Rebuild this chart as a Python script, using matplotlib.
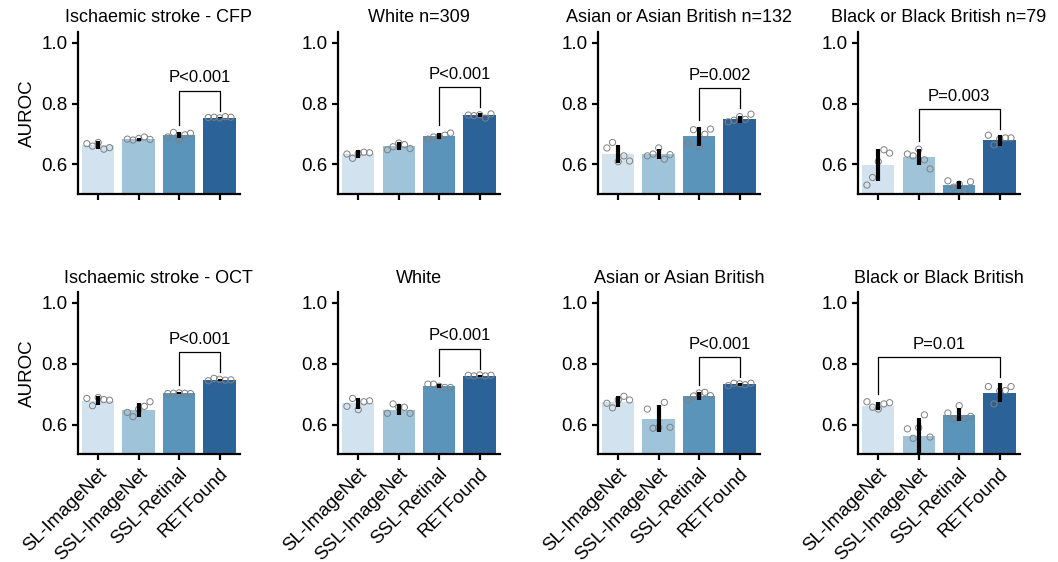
import matplotlib
matplotlib.use("Agg")
import matplotlib.pyplot as plt
import numpy as np

plt.rcParams['font.family'] = ['Liberation Sans', 'DejaVu Sans']

models = ["SL-ImageNet", "SSL-ImageNet", "SSL-Retinal", "RETFound"]
colors = ["#d3e2ef", "#9fc3d8", "#5b94bb", "#2b6399"]

titles = ["Ischaemic stroke - CFP", "White n=309", "Asian or Asian British n=132", "Black or Black British n=79",
          "Ischaemic stroke - OCT", "White", "Asian or Asian British", "Black or Black British"]

means = [
    [0.663, 0.682, 0.696, 0.754],
    [0.634, 0.660, 0.693, 0.762],
    [0.634, 0.634, 0.692, 0.748],
    [0.598, 0.625, 0.532, 0.679],
    [0.679, 0.648, 0.703, 0.746],
    [0.670, 0.649, 0.728, 0.760],
    [0.675, 0.619, 0.693, 0.732],
    [0.662, 0.561, 0.632, 0.705],
]
errs = [
    [0.013, 0.006, 0.009, 0.003],
    [0.012, 0.014, 0.011, 0.006],
    [0.030, 0.016, 0.030, 0.012],
    [0.053, 0.027, 0.014, 0.017],
    [0.015, 0.023, 0.003, 0.004],
    [0.019, 0.018, 0.007, 0.004],
    [0.018, 0.045, 0.013, 0.005],
    [0.013, 0.061, 0.021, 0.031],
]
points = [
    [[0.668, 0.660, 0.672, 0.650, 0.655], [0.683, 0.680, 0.685, 0.690, 0.682], [0.690, 0.705, 0.682, 0.697, 0.702], [0.754, 0.755, 0.753, 0.757, 0.755]],
    [[0.634, 0.620, 0.636, 0.640, 0.638], [0.648, 0.658, 0.670, 0.665, 0.652], [0.683, 0.690, 0.692, 0.696, 0.703], [0.762, 0.760, 0.763, 0.752, 0.766]],
    [[0.654, 0.672, 0.609, 0.628, 0.611], [0.628, 0.634, 0.654, 0.617, 0.632], [0.669, 0.714, 0.658, 0.699, 0.716], [0.740, 0.745, 0.757, 0.748, 0.765]],
    [[0.532, 0.557, 0.609, 0.648, 0.637], [0.634, 0.628, 0.650, 0.615, 0.585], [0.546, 0.525, 0.535, 0.517, 0.543], [0.696, 0.664, 0.683, 0.687, 0.687]],
    [[0.686, 0.662, 0.689, 0.682, 0.680], [0.640, 0.626, 0.651, 0.660, 0.675], [0.702, 0.703, 0.704, 0.703, 0.702], [0.744, 0.752, 0.749, 0.746, 0.747]],
    [[0.660, 0.686, 0.649, 0.675, 0.678], [0.637, 0.668, 0.657, 0.657, 0.637], [0.733, 0.733, 0.726, 0.722, 0.722], [0.762, 0.760, 0.763, 0.760, 0.762]],
    [[0.670, 0.655, 0.681, 0.693, 0.681], [0.651, 0.588, 0.590, 0.673, 0.591], [0.681, 0.694, 0.704, 0.706, 0.695], [0.728, 0.736, 0.734, 0.731, 0.736]],
    [[0.675, 0.657, 0.651, 0.668, 0.672], [0.586, 0.555, 0.590, 0.632, 0.559], [0.638, 0.619, 0.662, 0.620, 0.627], [0.725, 0.668, 0.711, 0.712, 0.725]],
]
# comparison (bar index pairs) and p-value labels
comparisons = [(2, 3), (2, 3), (2, 3), (1, 3), (2, 3), (2, 3), (2, 3), (0, 3)]
pvals = ["P<0.001", "P<0.001", "P=0.002", "P=0.003", "P<0.001", "P<0.001", "P<0.001", "P=0.01"]

# style constants
jitter = np.array([-0.28, -0.14, 0.0, 0.14, 0.28])
fig = plt.figure(figsize=(10.58, 5.62), dpi=100)
lefts = [0.0737, 0.3195, 0.5652, 0.811]
bottoms = [0.655, 0.192]
w, h = 0.153, 0.288

for k in range(8):
    r, c = divmod(k, 4)
    ax = fig.add_axes([lefts[c], bottoms[r], w, h])
    x = np.arange(len(models))
    ax.bar(x, means[k], width=0.8, color=colors, zorder=1)
    for i in range(4):
        ax.scatter(x[i] + jitter, points[k][i], s=20, facecolors='none',
                   edgecolors='#808080', linewidths=0.7, zorder=3)
        ax.plot([x[i], x[i]], [means[k][i] - errs[k][i], means[k][i] + errs[k][i]],
                color='black', lw=3.0, solid_capstyle='butt', zorder=4)
    # significance bracket
    a, b = comparisons[k]
    tops = [max(max(points[k][i]), means[k][i] + errs[k][i]) for i in range(4)]
    ytop = max(tops[a:b + 1]) + 0.085
    ya = tops[a] + 0.025
    yb = tops[b] + 0.02
    ax.plot([x[a], x[a], x[b], x[b]], [ya, ytop, ytop, yb], color='black', lw=0.9, zorder=5)
    ax.text((x[a] + x[b]) / 2, ytop + 0.018, pvals[k], ha='center', va='bottom', fontsize=12)

    ax.set_xlim(-0.5, 3.5)
    ax.set_ylim(0.503, 1.035)
    ax.set_yticks([0.6, 0.8, 1.0])
    ax.set_yticklabels(["0.6", "0.8", "1.0"])
    ax.set_xticks(x)
    if r == 1:
        ax.set_xticklabels(models, rotation=45, ha='right', rotation_mode='anchor', fontsize=13)
    else:
        ax.set_xticklabels([])
    for s in ['top', 'right']:
        ax.spines[s].set_visible(False)
    for s in ['left', 'bottom']:
        ax.spines[s].set_linewidth(1.6)
    ax.tick_params(axis='both', width=1.6, length=4, labelsize=13.5)
    ax.set_title(titles[k], fontsize=13, pad=7)
    if c == 0:
        ax.set_ylabel("AUROC", fontsize=13.5)

fig.savefig("out.png", dpi=100)
